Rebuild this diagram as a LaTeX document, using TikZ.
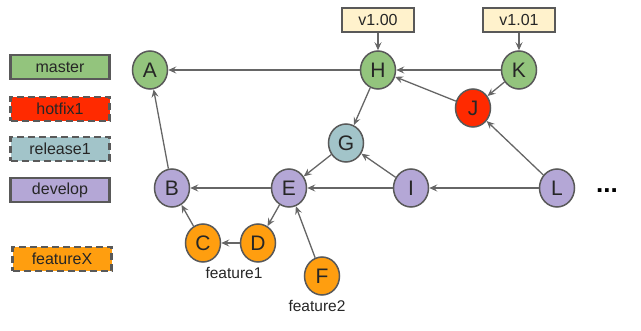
\documentclass[tikz,border=0pt]{standalone}
\usepackage{fontspec}
\setmainfont{Liberation Sans}
\usetikzlibrary{arrows.meta,shapes.geometric}
\definecolor{cgreen}{HTML}{93C47D}
\definecolor{cred}{HTML}{FF2A00}
\definecolor{cblue}{HTML}{A2C4C9}
\definecolor{cpurple}{HTML}{B4A7D6}
\definecolor{corange}{HTML}{FF9E0F}
\definecolor{cyellow}{HTML}{FFF2CC}
\definecolor{cborder}{HTML}{595959}
\definecolor{cline}{HTML}{666666}
\tikzset{
  commit/.style={ellipse,draw=cborder,line width=1.5pt,minimum width=35pt,minimum height=38pt,inner sep=0pt,font=\fontsize{21}{21}\selectfont,text=black!85},
  legend/.style={rectangle,draw=cborder,line width=2.2pt,minimum width=99pt,minimum height=24pt,inner sep=0pt,font=\fontsize{16}{16}\selectfont,text=black!85},
  dashedbox/.style={dash pattern=on 7pt off 4pt},
  tagbox/.style={rectangle,draw=cborder,fill=cyellow,line width=1.5pt,minimum width=72pt,minimum height=24pt,inner sep=0pt,font=\fontsize{16}{16}\selectfont,text=black!85},
  lbl/.style={font=\fontsize{15.5}{15.5}\selectfont,text=black!85},
  link/.style={draw=cline,line width=1.3pt,-{Stealth[length=8pt,width=7pt,inset=3pt]}},
}
\begin{document}
\begin{tikzpicture}[x=1pt,y=-1pt]
\useasboundingbox (0,0) rectangle (641,331);
% legend
\node[legend,fill=cgreen] (lm) at (60,67) {master};
\node[legend,fill=cred,dashedbox] (lh) at (60,109) {hotfix1};
\node[legend,fill=cblue,dashedbox] (lr) at (60,149) {release1};
\node[legend,fill=cpurple] (ld) at (60,190) {develop};
\node[legend,fill=corange,dashedbox] (lf) at (62,259) {featureX};
% commits
\node[commit,fill=cgreen] (A) at (150,70) {A};
\node[commit,fill=cgreen] (H) at (378,70) {H};
\node[commit,fill=cgreen] (K) at (519,70) {K};
\node[commit,fill=cred] (J) at (473,108) {J};
\node[commit,fill=cblue] (G) at (346,143) {G};
\node[commit,fill=cpurple] (B) at (172,188) {B};
\node[commit,fill=cpurple] (E) at (289,188) {E};
\node[commit,fill=cpurple] (I) at (411,188) {I};
\node[commit,fill=cpurple] (L) at (557,188) {L};
\node[commit,fill=corange] (C) at (203,243) {C};
\node[commit,fill=corange] (D) at (258,243) {D};
\node[commit,fill=corange] (F) at (322,276) {F};
% tags
\node[tagbox] (t1) at (378,20) {v1.00};
\node[tagbox] (t2) at (519,20) {v1.01};
% labels
\node[lbl] (f1) at (234,273) {feature1};
\node[lbl] (f2) at (317,306) {feature2};
\node[font=\fontsize{26}{26}\selectfont\bfseries] (dots) at (607,191) {...};
% edges
\draw[link] (t1) -- (H);
\draw[link] (t2) -- (K);
\draw[link] (H) -- (A);
\draw[link] (K) -- (H);
\draw[link] (J) -- (H);
\draw[link] (K) -- (J);
\draw[link] (H) -- (G);
\draw[link] (G) -- (E);
\draw[link] (I) -- (G);
\draw[link] (E) -- (B);
\draw[link] (I) -- (E);
\draw[link] (L) -- (I);
\draw[link] (L) -- (J);
\draw[link] (B) -- (A);
\draw[link] (E) -- (D);
\draw[link] (D) -- (C);
\draw[link] (C) -- (B);
\draw[link] (F) -- (E);
\end{tikzpicture}
\end{document}
